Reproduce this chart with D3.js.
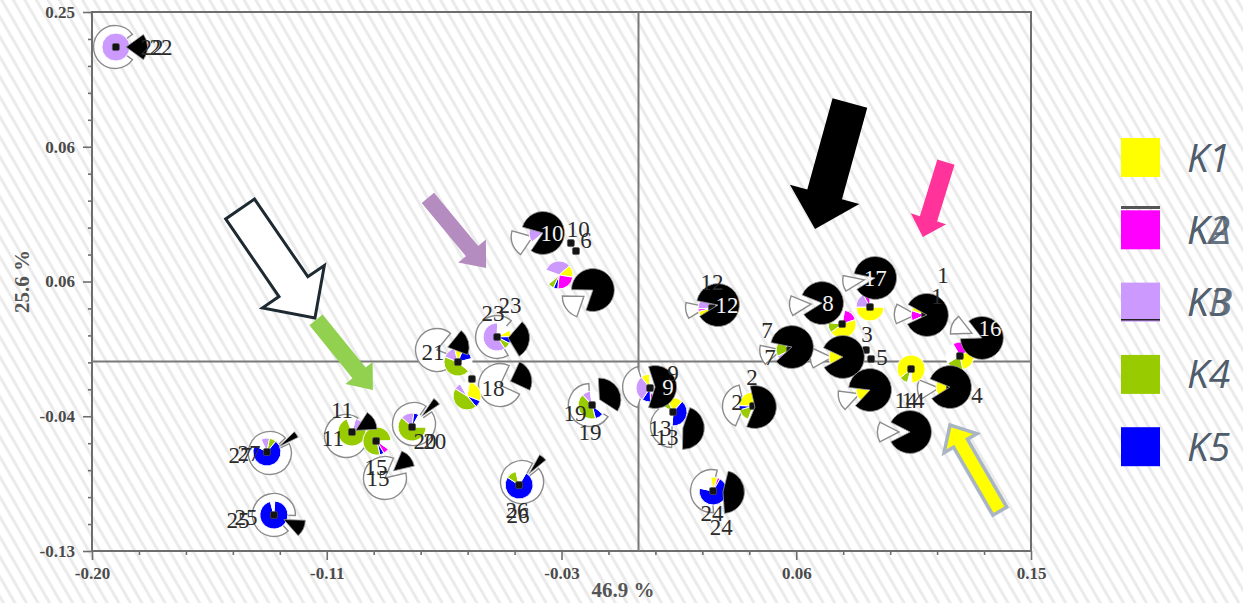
<!DOCTYPE html>
<html><head><meta charset="utf-8">
<script src="https://cdn.jsdelivr.net/npm/d3@7"></script>
<style>body{margin:0;background:#fff}svg{display:block}</style>
</head><body>
<svg id="c" width="1243" height="603"></svg>
<script>
// ---------- data ----------
const xTicks = [-0.20, -0.1125, -0.025, 0.0625, 0.15];
const xTickLabels = ["-0.20", "-0.11", "-0.03", "0.06", "0.15"];
const yTicks = [0.25, 0.155, 0.06, -0.035, -0.13];
const yTickLabels = ["0.25", "0.06", "0.06", "-0.04", "-0.13"];
const xTitle = "46.9 %", yTitle = "25.6 %";
const refX = 0.0037, refY = 0.0036;

const clusters = ["K1", "K2", "K3", "K4", "K5"];
const clusterLabels = [["K1"], ["K2", "KA"], ["K3", "KB"], ["K4"], ["K5"]];

const sampleIds = [1,2,3,4,5,6,7,8,9,10,11,12,13,14,15,16,17,18,19,20,21,22,23,24,25,26,27];
// ancestry-pie centres
const colX = [0.1105,0.0464,0.0799,0.1198,0.0900,-0.0259,0.0602,0.0796,0.0080,-0.0319,-0.1031,0.0311,0.0166,0.1053,-0.0938,0.1235,0.0900,-0.0602,-0.0136,-0.0807,-0.0636,-0.1911,-0.0490,0.0315,-0.1322,-0.0408,-0.1348];
const colY = [0.0364,-0.0278,0.0068,-0.0144,-0.0165,0.0646,0.0117,0.0300,-0.0151,0.0942,-0.0461,0.0413,-0.0320,-0.0017,-0.0525,0.0075,0.0420,-0.0207,-0.0271,-0.0426,0.0032,0.2253,0.0209,-0.0877,-0.1046,-0.0835,-0.0602];
// ancestry proportions K1..K5
const k1 = [.20,.30,.30,.25,.20,.14,0,.45,.10,.10,0,.10,.18,.85,0,.30,.50,.28,0,0,.10,0,.08,.08,0,0,0];
const k2 = [.12,0,0,0,0,.24,0,.17,.05,0,0,.03,0,0,.07,.25,.08,0,0,0,0,0,0,.03,.01,0,0];
const k3 = [.10,0,0,0,.10,.33,.15,0,.30,.20,.12,.20,0,0,0,0,.17,.08,.10,.15,.15,1,.60,0,0,0,.10];
const k4 = [.10,.15,.10,.20,0,.07,.20,.12,0,0,.78,.10,.10,.10,.78,.20,0,.45,.42,.62,.45,0,.08,0,0,.12,.08];
const k5 = [0,.05,0,0,0,.05,.10,0,.10,0,0,.10,.40,0,.05,0,0,.08,.10,.06,.15,0,.08,.70,.95,.76,.72];
const sliceOrder = ["2134","451","14","14","13","31254","345","214","2531","31","34","12345","415","41","254","214","132","1543","543","435","4315","3","1543","125","25","54","345"];
const sliceStart = [245,200,220,230,210,290,190,10,160,230,15,220,300,195,125,330,90,10,130,90,130,0,60,350,0,30,335];
// black / white pies
const bwX = [0.1112,0.0471,0.0799,0.1198,0.0900,-0.0133,0.0609,0.0721,0.0099,-0.0319,-0.1053,0.0333,0.0162,0.1049,-0.0908,0.1317,0.0919,-0.0479,-0.0144,-0.0800,-0.0714,-0.1914,-0.0490,0.0311,-0.1322,-0.0397,-0.1337];
const bwY = [0.0364,-0.0285,0.0068,-0.0144,-0.0165,0.0540,0.0138,0.0448,-0.0144,0.0942,-0.0489,0.0434,-0.0419,-0.0461,-0.0785,0.0202,0.0625,-0.0130,-0.0271,-0.0405,0.0117,0.2253,0.0209,-0.0877,-0.1046,-0.0814,-0.0609];
const blackShare = [.85,.60,.85,.85,.85,.80,.85,.85,.60,.80,.15,.88,.45,.85,.15,.85,.88,.25,.35,.06,.20,.20,.30,.45,.13,.06,.05];
const minorityDir = [272,275,268,265,250,235,255,265,270,250,60,260,100,270,50,295,260,70,60,45,75,90,95,95,115,40,55];
// point markers
const dotX = [0.1105,0.0464,0.0885,0.1198,0.0904,-0.0196,0.0602,0.0796,0.0080,-0.0215,-0.1031,0.0311,0.0166,0.1053,-0.0941,0.1235,0.0900,-0.0584,-0.0136,-0.0807,-0.0636,-0.1911,-0.0490,0.0315,-0.1322,-0.0408,-0.1348];
const dotY = [0.0364,-0.0278,0.0117,-0.0144,0.0054,0.0815,0.0117,0.0300,-0.0151,0.0871,-0.0461,0.0413,-0.0320,-0.0017,-0.0525,0.0075,0.0420,-0.0087,-0.0271,-0.0426,0.0032,0.2253,0.0209,-0.0877,-0.1046,-0.0835,-0.0602];
// sample labels (two overlaid layers)
const labelText = ["22","22","27","27","25","25","11","11","15","15","20","20","21","18","23","23","19","19","26","26","24","24","13","13","9","9","2","2","12","12","7","7","8","17","3","5","1","1","16","14","14","4","10","10","6"];
const labelX = [-0.1776,-0.1743,-0.1448,-0.1415,-0.1456,-0.1426,-0.1068,-0.1102,-0.0941,-0.0934,-0.0759,-0.0722,-0.0729,-0.0505,-0.0505,-0.0442,-0.0200,-0.0144,-0.0416,-0.0412,0.0311,0.0345,0.0117,0.0143,0.0166,0.0147,0.0460,0.0404,0.0311,0.0367,0.0516,0.0527,0.0743,0.0919,0.0889,0.0945,0.1172,0.1150,0.1347,0.1034,0.1060,0.1299,-0.0285,-0.0188,-0.0159];
const labelY = [0.2253,0.2253,-0.0623,-0.0609,-0.1081,-0.1060,-0.0306,-0.0503,-0.0708,-0.0785,-0.0525,-0.0525,0.0103,-0.0151,0.0378,0.0434,-0.0327,-0.0461,-0.1011,-0.1046,-0.1032,-0.1131,-0.0433,-0.0496,-0.0045,-0.0144,-0.0073,-0.0250,0.0597,0.0434,0.0258,0.0068,0.0448,0.0625,0.0230,0.0068,0.0646,0.0498,0.0272,-0.0235,-0.0235,-0.0200,0.0942,0.0970,0.0893];
const labelOnBlack = [0,0,0,0,0,0,0,0,0,0,0,0,0,0,0,0,0,0,0,0,0,0,0,0,0,1,0,0,0,1,0,0,1,1,0,0,0,0,1,0,0,0,1,0,0];
// annotation arrows: tail and tip in data units
const arrowTailX = [-0.1448,-0.1165,-0.0748,0.0825,0.1183,0.1384];
const arrowTailY = [0.1111,0.0329,0.1189,0.1858,0.1442,-0.1019];
const arrowTipX  = [-0.1169,-0.0953,-0.0531,0.0695,0.1097,0.1198];
const arrowTipY  = [0.0343,-0.0165,0.0695,0.0970,0.0914,-0.0412];

// ---------- styles ----------
const clusterColor = {"1":"#ffff00","2":"#ff00ff","3":"#cc99ff","4":"#99cc00","5":"#0000ff"};
const arrowStyle = [
  {w:35,hw:75,hl:38,fill:"#ffffff",stroke:"#1e2a31",sw:3},
  {w:17,hw:35,hl:22,fill:"#92d050",stroke:"none",sw:0},
  {w:16,hw:36,hl:22,fill:"#b48cc0",stroke:"none",sw:0},
  {w:36,hw:72,hl:36,fill:"#000000",stroke:"none",sw:0},
  {w:18,hw:37,hl:19,fill:"#ff3399",stroke:"none",sw:0},
  {w:16,hw:38,hl:21,fill:"#ffff00",stroke:"#a9b5c5",sw:3.5}
];
const L = 92, R = 1031, T = 12, B = 551;
const rCol = 14, rBW = 21.5, explode = 11;

const svg = d3.select("#c");
const defs = svg.append("defs");
const pat = defs.append("pattern").attr("id","stripes").attr("patternUnits","userSpaceOnUse")
  .attr("width",10).attr("height",10).attr("patternTransform","rotate(-30)");
pat.append("rect").attr("width",10).attr("height",10).attr("fill","#ffffff");
pat.append("rect").attr("width",3).attr("height",10).attr("fill","#ebebeb");
svg.append("rect").attr("width",1243).attr("height",603).attr("fill","url(#stripes)");

const x = d3.scaleLinear().domain([-0.20, 0.15]).range([L, R]);
const y = d3.scaleLinear().domain([-0.13, 0.25]).range([B, T]);

// minor ticks (5 subdivisions between labelled ticks)
const minorX = [], minorY = [];
for (let i = 0; i < xTicks.length - 1; i++) for (let j = 1; j < 5; j++) minorX.push(xTicks[i] + (xTicks[i+1]-xTicks[i])*j/5);
for (let i = 0; i < yTicks.length - 1; i++) for (let j = 1; j < 5; j++) minorY.push(yTicks[i] + (yTicks[i+1]-yTicks[i])*j/5);

const axisColor = "#6e6e6e";
function styleAxis(g){ g.select(".domain").remove(); g.selectAll("line").attr("stroke",axisColor).attr("stroke-width",1.6);
  g.selectAll("text").attr("font-family","'Liberation Serif', serif").attr("font-size",17).attr("font-weight","bold").attr("fill","#4a4a4a"); }
svg.append("g").attr("transform",`translate(0,${B})`)
  .call(d3.axisBottom(x).tickValues(minorX).tickSize(4).tickFormat("")).call(styleAxis);
svg.append("g").attr("transform",`translate(0,${B})`)
  .call(d3.axisBottom(x).tickValues(xTicks).tickSize(9).tickPadding(7).tickFormat((d,i)=>xTickLabels[i])).call(styleAxis);
svg.append("g").attr("transform",`translate(${L},0)`)
  .call(d3.axisLeft(y).tickValues(minorY).tickSize(4).tickFormat("")).call(styleAxis);
svg.append("g").attr("transform",`translate(${L},0)`)
  .call(d3.axisLeft(y).tickValues(yTicks).tickSize(9).tickPadding(8).tickFormat((d,i)=>yTickLabels[i])).call(styleAxis);

// frame & reference lines
svg.append("rect").attr("x",L).attr("y",T).attr("width",R-L).attr("height",B-T)
  .attr("fill","none").attr("stroke",axisColor).attr("stroke-width",2);
svg.append("line").attr("x1",x(refX)).attr("x2",x(refX)).attr("y1",T).attr("y2",B).attr("stroke","#7a7a7a").attr("stroke-width",2);
svg.append("line").attr("x1",L).attr("x2",R).attr("y1",y(refY)).attr("y2",y(refY)).attr("stroke","#7a7a7a").attr("stroke-width",2);

// axis titles
svg.append("text").attr("x",623).attr("y",597).attr("text-anchor","middle")
  .attr("font-family","'Liberation Serif', serif").attr("font-size",21).attr("font-weight","bold").attr("fill","#555").text(xTitle);
svg.append("text").attr("transform",`translate(29,${(T+B)/2}) rotate(-90)`).attr("text-anchor","middle")
  .attr("font-family","'Liberation Serif', serif").attr("font-size",21).attr("font-weight","bold").attr("fill","#555").text(yTitle);

// ---------- pies ----------
const gWhite = svg.append("g"), gCol = svg.append("g"), gDot = svg.append("g"),
      gBlack = svg.append("g"), gLab = svg.append("g"), gArr = svg.append("g");
const arcB = d3.arc().innerRadius(0).outerRadius(rBW);
const arcC = d3.arc().innerRadius(0).outerRadius(rCol);
const deg = Math.PI/180;
const kArr = [k1,k2,k3,k4,k5];

sampleIds.forEach((id, i) => {
  const cx = x(bwX[i]), cy = y(bwY[i]);
  const blk = blackShare[i], dir = minorityDir[i]*deg;
  const minorIsBlack = blk < 0.5, half = Math.min(blk, 1-blk)*Math.PI;
  const ox = Math.sin(dir)*explode, oy = -Math.cos(dir)*explode;
  const minor = {startAngle: dir-half, endAngle: dir+half};
  const major = {startAngle: dir+half, endAngle: dir-half+2*Math.PI};
  const blackPart = minorIsBlack ? minor : major, whitePart = minorIsBlack ? major : minor;
  const wOff = minorIsBlack ? [0,0] : [ox,oy], bOff = minorIsBlack ? [ox,oy] : [0,0];
  gWhite.append("path").attr("d",arcB(whitePart)).attr("transform",`translate(${cx+wOff[0]},${cy+wOff[1]})`)
    .attr("fill","#fff").attr("stroke","#8c8c8c").attr("stroke-width",1.4);
  gBlack.append("path").attr("d",arcB(blackPart)).attr("transform",`translate(${cx+bOff[0]},${cy+bOff[1]})`)
    .attr("fill","#000").attr("stroke","#9a9a9a").attr("stroke-width",0.8);

  const slices = sliceOrder[i].split("").map(c => ({k:c, v:kArr[+c-1][i]})).filter(s => s.v > 0);
  const tot = d3.sum(slices, s => s.v);
  if (tot < 1) slices.push({k:"0", v:1-tot});
  const s0 = sliceStart[i]*deg;
  const pie = d3.pie().sort(null).value(s => s.v).startAngle(s0).endAngle(s0+2*Math.PI);
  const pg = gCol.append("g").attr("transform",`translate(${x(colX[i])},${y(colY[i])})`);
  pg.selectAll("path").data(pie(slices)).join("path").attr("d",arcC)
    .attr("fill", d => d.data.k === "0" ? "#fff" : clusterColor[d.data.k])
    .attr("stroke","#fff").attr("stroke-width",1);

  gDot.append("rect").attr("x",x(dotX[i])-3.5).attr("y",y(dotY[i])-3.5).attr("width",7).attr("height",7)
    .attr("rx",1.5).attr("fill","#141414").attr("stroke","#555").attr("stroke-width",0.6);
});

// labels
labelText.forEach((t, i) => {
  gLab.append("text").attr("x",x(labelX[i])).attr("y",y(labelY[i])).attr("dy","0.35em")
    .attr("text-anchor","middle").attr("font-family","'Liberation Serif', serif").attr("font-size",23)
    .attr("fill", labelOnBlack[i] ? "#f2f2f2" : "#2b2b2b").text(t);
});

// arrows
arrowTailX.forEach((_, i) => {
  const tx = x(arrowTailX[i]), ty = y(arrowTailY[i]), px = x(arrowTipX[i]), py = y(arrowTipY[i]);
  const st = arrowStyle[i];
  const len = Math.hypot(px-tx, py-ty), ux = (px-tx)/len, uy = (py-ty)/len, nx = -uy, ny = ux;
  const bx = px-ux*st.hl, by = py-uy*st.hl;
  const pts = [[tx+nx*st.w/2,ty+ny*st.w/2],[bx+nx*st.w/2,by+ny*st.w/2],[bx+nx*st.hw/2,by+ny*st.hw/2],[px,py],
               [bx-nx*st.hw/2,by-ny*st.hw/2],[bx-nx*st.w/2,by-ny*st.w/2],[tx-nx*st.w/2,ty-ny*st.w/2]];
  gArr.append("polygon").attr("points",pts.map(p=>p.join(",")).join(" "))
    .attr("fill",st.fill).attr("stroke",st.stroke).attr("stroke-width",st.sw).attr("stroke-linejoin","miter");
});

// legend
const leg = svg.append("g");
clusters.forEach((k, i) => {
  const yy = 138 + i*72.3;
  leg.append("rect").attr("x",1121).attr("y",yy).attr("width",39).attr("height",39).attr("fill",clusterColor[String(i+1)]);
  clusterLabels[i].forEach(t => {
    leg.append("text").attr("x",1187).attr("y",yy+19.5).attr("dy","0.36em")
      .attr("font-family","'Open Sans', sans-serif").attr("font-style","italic").attr("font-size",39)
      .attr("fill","#4e5c6b").attr("fill-opacity", clusterLabels[i].length>1 ? 0.85 : 1).text(t);
  });
});
leg.append("rect").attr("x",1121).attr("y",206).attr("width",39).attr("height",3).attr("fill","#555");
leg.append("rect").attr("x",1121).attr("y",319).attr("width",39).attr("height",1.5).attr("fill","#222");
</script>
</body></html>
